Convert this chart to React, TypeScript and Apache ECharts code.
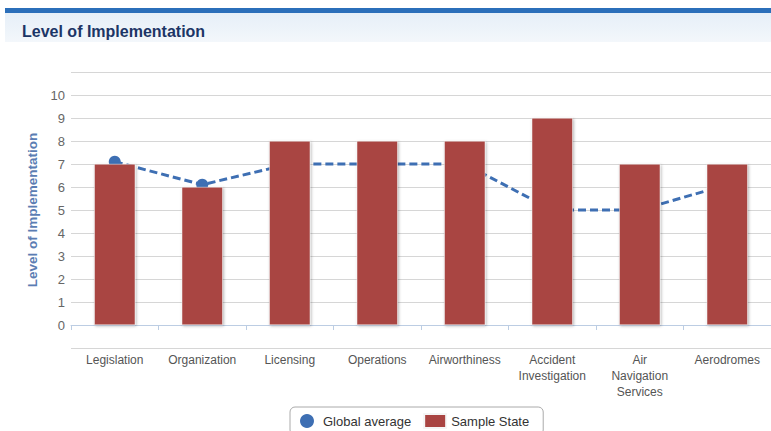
import React, { useEffect, useRef } from "react";
import * as echarts from "echarts";

const categories = [
  "Legislation",
  "Organization",
  "Licensing",
  "Operations",
  "Airworthiness",
  "Accident\nInvestigation",
  "Air\nNavigation\nServices",
  "Aerodromes",
];
const sampleState = [7, 6, 8, 8, 8, 9, 7, 7];
const globalAverage = [7.1, 6.1, 7, 7, 7, 5, 5, 6.1];
const yMin = -1;
const yMax = 11;
const yTickLabelsShown = [0, 1, 2, 3, 4, 5, 6, 7, 8, 9, 10];

export default function App() {
  const ref = useRef<HTMLDivElement>(null);
  useEffect(() => {
    if (!ref.current) return;
    const chart = echarts.init(ref.current, null, { renderer: "svg" });
    const font = "Arial, 'Liberation Sans', sans-serif";
    chart.setOption({
      animation: false,
      textStyle: { fontFamily: font },
      graphic: [
        {
          type: "rect",
          shape: { x: 5, y: 8, width: 766, height: 5 },
          style: { fill: "#2b6fba" },
        },
        {
          type: "rect",
          shape: { x: 5, y: 13, width: 766, height: 29 },
          style: {
            fill: new echarts.graphic.LinearGradient(0, 0, 0, 1, [
              { offset: 0, color: "#e6eff8" },
              { offset: 1, color: "#f3f7fb" },
            ]),
          },
        },
        {
          type: "text",
          x: 22,
          y: 31,
          style: {
            text: "Level of Implementation",
            font: "bold 16px " + font,
            fill: "#1c3566",
            textVerticalAlign: "middle",
          },
        },
      ],
      legend: {
        left: 290,
        top: 407,
        padding: [6, 14, 6, 10],
        itemGap: 12,
        itemWidth: 22,
        itemHeight: 14,
        borderColor: "#aaaaaa",
        borderWidth: 1,
        borderRadius: 5,
        textStyle: { fontSize: 13, color: "#333", fontFamily: font },
        data: [
          { name: "Global average", icon: "circle" },
          { name: "Sample State", icon: "rect" },
        ],
      },
      grid: { left: 71, right: -8, top: 72, bottom: 83, containLabel: false },
      xAxis: {
        type: "category",
        data: categories,
        axisLine: { lineStyle: { color: "#bccde3", width: 1 } },
        axisTick: { show: true, length: 5, lineStyle: { color: "#bccde3" } },
        axisLabel: {
          color: "#555",
          fontSize: 12,
          lineHeight: 16,
          margin: 4,
          interval: 0,
          fontFamily: font,
        },
      },
      yAxis: {
        type: "value",
        min: yMin,
        max: yMax,
        interval: 1,
        name: "Level of Implementation",
        nameLocation: "middle",
        nameGap: 30,
        nameTextStyle: {
          color: "#5b7db3",
          fontWeight: "bold",
          fontSize: 13.5,
          fontFamily: font,
        },
        axisLine: { show: false },
        axisTick: { show: false },
        axisLabel: {
          color: "#666",
          fontSize: 13,
          margin: 6,
          fontFamily: font,
          formatter: (v: number) =>
            yTickLabelsShown.indexOf(v) >= 0 ? String(v) : "",
        },
        splitLine: { lineStyle: { color: "#d6d6d6", width: 1 } },
      },
      series: [
        {
          name: "Global average",
          type: "line",
          data: globalAverage,
          z: 1,
          symbol: "circle",
          symbolSize: 12,
          itemStyle: { color: "#3e6fb3" },
          lineStyle: { color: "#3e6fb3", width: 3, type: [8, 4] },
        },
        {
          name: "Sample State",
          type: "bar",
          data: sampleState,
          z: 3,
          barWidth: 41,
          itemStyle: {
            color: "#a94442",
            borderColor: "#f5f5f5",
            borderWidth: 0.5,
            shadowColor: "rgba(0,0,0,0.3)",
            shadowBlur: 3,
            shadowOffsetX: 1,
            shadowOffsetY: 1,
          },
        },
      ],
    });
    return () => chart.dispose();
  }, []);
  return (
    <div
      ref={ref}
      style={{ position: "fixed", left: 0, top: 0, width: 771, height: 431, background: "#fff" }}
    />
  );
}
